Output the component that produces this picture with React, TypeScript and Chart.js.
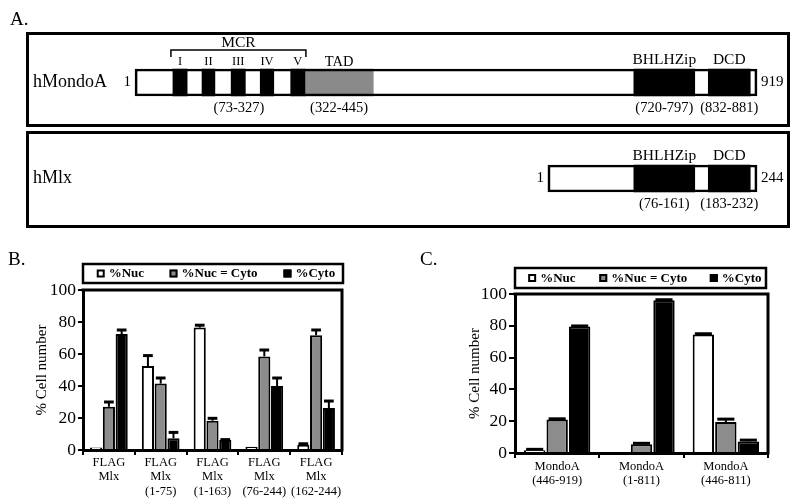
import React, { useEffect, useRef } from 'react';
import { Chart, registerables } from 'chart.js';
Chart.register(...registerables);

const SERIF = '"Liberation Serif", "Times New Roman", serif';
Chart.defaults.font.family = SERIF;
Chart.defaults.color = '#000';

// ---------- Panel A: domain schematic (schematic drawing units) ----------
const proteins = ['hMondoA', 'hMlx'];
const proteinLength = [919, 244];
const proteinSpan: [number, number][] = [[0, 919], [610, 919]];
const mcrBoxes: [number, number][] = [[56, 77], [99, 118], [142, 163], [185, 205], [230, 251]];
const mcrNumerals = ['I', 'II', 'III', 'IV', 'V'];
const tadSpan: [number, number] = [251, 352];
const bhlhSpan: [number, number] = [737, 827];
const dcdSpan: [number, number] = [847, 909];
const mondoRanges = ['(73-327)', '(322-445)', '(720-797)', '(832-881)'];
const mlxRanges = ['(76-161)', '(183-232)'];

// ---------- Panel B ----------
const seriesNames = ['%Nuc', '%Nuc = Cyto', '%Cyto'];
const seriesColors = ['#ffffff', '#8c8c8c', '#000000'];
const bCats = [
  ['FLAG', 'Mlx'],
  ['FLAG', 'Mlx', '(1-75)'],
  ['FLAG', 'Mlx', '(1-163)'],
  ['FLAG', 'Mlx', '(76-244)'],
  ['FLAG', 'Mlx', '(162-244)'],
];
const bNuc = [1.5, 52.5, 76.5, 2, 3.3];
const bNucErr = [0, 6.5, 1.5, 0, 0.6];
const bEq = [27, 41.5, 18.3, 58.5, 71.7];
const bEqErr = [3, 3.5, 1.5, 4, 3.3];
const bCyto = [72.5, 7.3, 6.2, 40, 26.2];
const bCytoErr = [2.5, 3.7, 0.3, 5, 4.4];

// ---------- Panel C ----------
const cCats = [
  ['MondoA', '(446-919)'],
  ['MondoA', '(1-811)'],
  ['MondoA', '(446-811)'],
];
const cNuc = [1.8, 0, 74.5];
const cNucErr = [0.5, 0, 0.5];
const cEq = [21, 5.5, 19.5];
const cEqErr = [0.5, 0.6, 1.8];
const cCyto = [79.5, 96, 7.3];
const cCytoErr = [0.4, 0.4, 0.8];

const yMin = 0;
const yMax = 100;
const yStep = 20;
const yTitle = '% Cell number';

const domainPlugin = {
  id: 'domainText',
  afterDraw(chart: any) {
    const { ctx } = chart;
    const xs = chart.scales.x;
    const ys = chart.scales.y;
    const px = (v: number) => xs.getPixelForValue(v);
    ctx.save();
    ctx.fillStyle = '#000';
    ctx.strokeStyle = '#000';
    ctx.lineWidth = 3;
    ctx.strokeRect(27.5, 33.5, 761, 92);
    ctx.strokeRect(27.5, 132.5, 761, 94);
    ctx.textBaseline = 'middle';
    ctx.textAlign = 'left';
    ctx.font = `19px ${SERIF}`;
    ctx.fillText('A.', 10, 20);
    proteins.forEach((name, i) => {
      const cy = ys.getPixelForValue(i);
      ctx.font = `18px ${SERIF}`;
      ctx.textAlign = 'left';
      ctx.fillText(name, 33, cy);
      ctx.font = `15px ${SERIF}`;
      ctx.textAlign = 'right';
      ctx.fillText('1', px(proteinSpan[i][0]) - 4, cy);
      ctx.textAlign = 'left';
      ctx.fillText(String(proteinLength[i]), px(proteinSpan[i][1]) + 4, cy);
      ctx.textAlign = 'center';
      ctx.font = `15.5px ${SERIF}`;
      ctx.fillText('BHLHZip', (px(bhlhSpan[0]) + px(bhlhSpan[1])) / 2, cy - 22.5);
      ctx.fillText('DCD', (px(dcdSpan[0]) + px(dcdSpan[1])) / 2, cy - 22.5);
      ctx.font = `14.5px ${SERIF}`;
      const ranges = i === 0 ? mondoRanges : mlxRanges;
      const spans = i === 0
        ? [[mcrBoxes[0][0], mcrBoxes[4][1]], tadSpan, bhlhSpan, dcdSpan]
        : [bhlhSpan, dcdSpan];
      spans.forEach((s, k) => {
        ctx.fillText(ranges[k], (px(s[0]) + px(s[1])) / 2, cy + 26);
      });
      if (i === 0) {
        const x1 = px(mcrBoxes[0][0]) - 2;
        const x2 = px(mcrBoxes[4][1]) + 1;
        ctx.lineWidth = 1.5;
        ctx.beginPath();
        ctx.moveTo(x1, cy - 25.5);
        ctx.lineTo(x1, cy - 32.5);
        ctx.lineTo(x2, cy - 32.5);
        ctx.lineTo(x2, cy - 25.5);
        ctx.stroke();
        ctx.font = `15.5px ${SERIF}`;
        ctx.fillText('MCR', (x1 + x2) / 2, cy - 40);
        ctx.font = `12.5px ${SERIF}`;
        mcrBoxes.forEach((b, k) => {
          ctx.fillText(mcrNumerals[k], (px(b[0]) + px(b[1])) / 2, cy - 20.5);
        });
        ctx.font = `14.5px ${SERIF}`;
        ctx.fillText('TAD', (px(tadSpan[0]) + px(tadSpan[1])) / 2, cy - 20.5);
      }
    });
    ctx.restore();
  },
};

function DomainPanel() {
  const ref = useRef<HTMLCanvasElement>(null);
  useEffect(() => {
    const box = (label: string, data: any[], color: string) => ({
      label, data, backgroundColor: color, borderWidth: 0, grouped: false, barThickness: 27, order: 1,
    });
    const chart = new Chart(ref.current!, {
      type: 'bar',
      data: {
        labels: proteins,
        datasets: [
          {
            label: 'protein', data: proteinSpan, backgroundColor: 'rgba(0,0,0,0)', borderColor: '#000',
            borderWidth: 2, borderSkipped: false, grouped: false, barThickness: 27, order: 0,
          } as any,
          ...mcrBoxes.map((b, k) => box('MCR ' + mcrNumerals[k], [b, null], '#000')),
          box('TAD', [tadSpan, null], '#8a8a8a'),
          box('BHLHZip', [bhlhSpan, bhlhSpan], '#000'),
          box('DCD', [dcdSpan, dcdSpan], '#000'),
        ],
      },
      options: {
        indexAxis: 'y',
        responsive: false,
        animation: false,
        layout: { padding: { top: 34.5, bottom: 8.5, left: 0, right: 0 } },
        scales: {
          x: { type: 'linear', min: -199.5, max: 982.5, display: false },
          y: { type: 'category', display: false },
        },
        plugins: { legend: { display: false }, tooltip: { enabled: false } },
      } as any,
      plugins: [domainPlugin],
    });
    return () => chart.destroy();
  }, []);
  return <canvas ref={ref} width={800} height={235} style={{ position: 'absolute', left: 0, top: 0, width: 800, height: 235 }} />;
}

const boxLegendPlugin = {
  id: 'boxLegend',
  afterDraw(chart: any) {
    const o = chart.options.plugins.boxLegend;
    if (!o) return;
    const { ctx, chartArea: a } = chart;
    ctx.save();
    ctx.strokeStyle = '#000';
    ctx.lineWidth = 3;
    ctx.beginPath();
    ctx.moveTo(a.left - 1.5, a.top);
    ctx.lineTo(a.right, a.top);
    ctx.lineTo(a.right, a.bottom + 1.5);
    ctx.stroke();
    const top = a.top - o.gap;
    const h = o.height;
    ctx.lineWidth = 2.5;
    ctx.strokeRect(a.left, top, a.right - a.left + o.extra, h);
    const cy = top + h / 2;
    chart.data.datasets.forEach((ds: any, i: number) => {
      const x = a.left + (a.right - a.left) * o.fractions[i];
      ctx.fillStyle = ds.backgroundColor;
      ctx.fillRect(x, cy - 4, 8, 8);
      ctx.lineWidth = 2;
      ctx.strokeRect(x + 1, cy - 3, 6, 6);
      ctx.fillStyle = '#000';
      ctx.font = `bold 13px ${SERIF}`;
      ctx.textBaseline = 'middle';
      ctx.textAlign = 'left';
      ctx.fillText(ds.label, x + 12, cy + 0.5);
    });
    ctx.font = `19px ${SERIF}`;
    ctx.textBaseline = 'middle';
    ctx.textAlign = 'left';
    ctx.fillText(o.letter, o.letterX, o.letterY);
    ctx.restore();
  },
};

const errorBarPlugin = {
  id: 'errorBars',
  afterDatasetsDraw(chart: any) {
    const { ctx } = chart;
    const ys = chart.scales.y;
    ctx.save();
    ctx.strokeStyle = '#000';
    chart.data.datasets.forEach((ds: any, i: number) => {
      const meta = chart.getDatasetMeta(i);
      meta.data.forEach((bar: any, j: number) => {
        const e = ds.errors ? ds.errors[j] : 0;
        if (!e) return;
        const v = ds.data[j];
        const x = bar.x;
        const y0 = bar.y;
        const y1 = ys.getPixelForValue(v + e);
        const w = bar.width;
        ctx.lineWidth = 2;
        ctx.beginPath();
        ctx.moveTo(x, y0);
        ctx.lineTo(x, y1);
        ctx.stroke();
        ctx.lineWidth = 3;
        ctx.beginPath();
        ctx.moveTo(x - w * 0.4, y1);
        ctx.lineTo(x + w * 0.4, y1);
        ctx.stroke();
      });
    });
    ctx.restore();
  },
};

type PanelProps = {
  left: number; top: number; width: number; height: number;
  cats: string[][];
  values: number[][];
  errors: number[][];
  yWidth: number; padRight: number; padTop: number; xHeight: number;
  titlePad: number; yTickLen: number; xTickLen: number; xPad: number;
  catPct: number; barPct: number; xLineHeight: number;
  letter: string; letterX: number; letterY: number;
  legendFractions: number[]; legendGap: number; legendHeight: number; legendExtra: number;
};

function BarPanel(p: PanelProps) {
  const ref = useRef<HTMLCanvasElement>(null);
  useEffect(() => {
    const chart = new Chart(ref.current!, {
      type: 'bar',
      data: {
        labels: p.cats,
        datasets: seriesNames.map((name, i) => ({
          label: name,
          data: p.values[i],
          errors: p.errors[i],
          backgroundColor: seriesColors[i],
          borderColor: '#000',
          borderWidth: 2,
          categoryPercentage: p.catPct,
          barPercentage: p.barPct,
        })) as any,
      },
      options: {
        responsive: false,
        animation: false,
        layout: { padding: { left: 0, right: p.padRight, top: p.padTop, bottom: 0 } },
        scales: {
          x: {
            type: 'category',
            afterFit: (s: any) => { s.height = p.xHeight; },
            grid: { display: true, drawOnChartArea: false, drawTicks: true, tickLength: p.xTickLen, color: '#000', lineWidth: 2, offset: true },
            border: { display: true, width: 3, color: '#000' },
            ticks: { font: { size: 12.5, lineHeight: p.xLineHeight }, padding: p.xPad, color: '#000', maxRotation: 0, autoSkip: false },
          },
          y: {
            type: 'linear',
            min: yMin, max: yMax,
            afterFit: (s: any) => { s.width = p.yWidth; },
            grid: { display: true, drawOnChartArea: false, drawTicks: true, tickLength: p.yTickLen, color: '#000', lineWidth: 2 },
            border: { display: true, width: 3, color: '#000' },
            ticks: { stepSize: yStep, font: { size: 17.5 }, padding: 2, color: '#000' },
            title: { display: true, text: yTitle, font: { size: 15 }, padding: { top: p.titlePad, bottom: 0 }, color: '#000' },
          },
        },
        plugins: {
          legend: { display: false },
          tooltip: { enabled: false },
          boxLegend: {
            fractions: p.legendFractions, gap: p.legendGap, height: p.legendHeight, extra: p.legendExtra,
            letter: p.letter, letterX: p.letterX, letterY: p.letterY,
          },
        },
      } as any,
      plugins: [errorBarPlugin, boxLegendPlugin],
    });
    return () => chart.destroy();
  }, []);
  return (
    <canvas
      ref={ref}
      width={p.width}
      height={p.height}
      style={{ position: 'absolute', left: p.left, top: p.top, width: p.width, height: p.height }}
    />
  );
}

export default function App() {
  return (
    <div style={{ position: 'absolute', left: 0, top: 0, width: 800, height: 501, background: '#fff', overflow: 'hidden' }}>
      <DomainPanel />
      <BarPanel
        left={0} top={240} width={400} height={261}
        cats={bCats}
        values={[bNuc, bEq, bCyto]}
        errors={[bNucErr, bEqErr, bCytoErr]}
        yWidth={83} padRight={58} padTop={50} xHeight={51}
        titlePad={33} yTickLen={5} xTickLen={5} xPad={0}
        catPct={0.74} barPct={0.95} xLineHeight={1.18}
        letter="B." letterX={8} letterY={20}
        legendFractions={[0.053, 0.334, 0.774]} legendGap={26} legendHeight={19} legendExtra={1}
      />
      <BarPanel
        left={400} top={240} width={400} height={261}
        cats={cCats}
        values={[cNuc, cEq, cCyto]}
        errors={[cNucErr, cEqErr, cCytoErr]}
        yWidth={115} padRight={32} padTop={54} xHeight={48}
        titlePad={66} yTickLen={6} xTickLen={5} xPad={2}
        catPct={0.8} barPct={0.95} xLineHeight={1.12}
        letter="C." letterX={20} letterY={20}
        legendFractions={[0.052, 0.333, 0.77]} legendGap={26} legendHeight={20} legendExtra={-2}
      />
    </div>
  );
}
